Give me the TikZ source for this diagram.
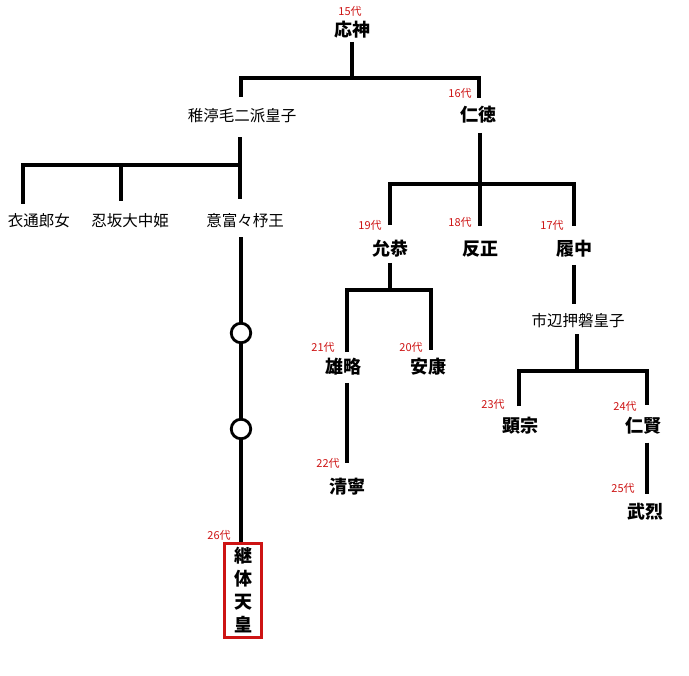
\documentclass[tikz,border=0pt]{standalone}
\usepackage{fontspec}
\newfontfamily\jp{Noto Sans CJK JP}
\definecolor{daired}{RGB}{205,20,20}

\begin{document}
\begin{tikzpicture}[x=1pt, y=-1pt,
        tenno/.style={font=\jp\bfseries\fontsize{18}{18}\selectfont, inner sep=0pt},
        miko/.style={font=\jp\fontsize{15.5}{16}\selectfont, inner sep=0pt},
        dai/.style={text=daired, font=\jp\fontsize{11}{11}\selectfont, inner sep=0pt},
        line/.style={line width=3.5pt},
        ring/.style={circle, draw, line width=2.8pt, minimum size=19.5pt, inner sep=0pt}]
        \useasboundingbox (0, 0) rectangle (689, 676);

        % --- Générations 15 et 16 ---
        \node[dai] (d15) at (350, 11) {15代};
        \node[tenno] (ojin) at (352, 30) {応神};
        \node[dai] (d16) at (460, 93) {16代};
        \node[tenno] (nintoku) at (478, 115) {仁徳};
        \node[miko] (wakanuke) at (242, 116) {稚渟毛二派皇子};

        % Jonctions
        \coordinate (j15) at (352, 78);
        \coordinate (j15l) at (241, 78);
        \coordinate (j15r) at (479, 78);

        \draw[line, shorten <=3pt] (ojin.south) -- (j15);
        \draw[line, shorten <=12pt, shorten >=8pt]
            (j15l |- wakanuke.north) -- (j15l) -- (j15r) -- (j15r |- nintoku.north);

        % --- Branche de Wakanuke ---
        \node[miko] (sotoori) at (39, 221) {衣通郎女};
        \node[miko] (osaka) at (130, 221) {忍坂大中姫};
        \node[miko] (ohodo) at (245, 221) {意富々杼王};

        \coordinate (jw) at (240, 165);
        \coordinate (jwl) at (23, 165);
        \coordinate (jwm) at (121, 165);

        \draw[line, shorten <=14pt, shorten >=15pt] (jw |- wakanuke.south) -- (jw |- ohodo.north);
        \draw[line, shorten <=10pt] (jwl |- sotoori.north) -- (jwl) -- (jw);
        \draw[line, shorten >=13pt] (jwm) -- (jwm |- osaka.north);

        % --- Fils de Nintoku ---
        \node[dai] (d19) at (370, 225) {19代};
        \node[tenno] (ingyo) at (390, 249) {允恭};
        \node[dai] (d18) at (460, 222) {18代};
        \node[tenno] (hanzei) at (480, 249) {反正};
        \node[dai] (d17) at (552, 225) {17代};
        \node[tenno] (richu) at (574, 249) {履中};

        \coordinate (j16) at (480, 184);
        \coordinate (j16l) at (390, 184);
        \coordinate (j16r) at (574, 184);

        \draw[line, shorten <=9pt, shorten >=15pt] (j16 |- nintoku.south) -- (j16 |- hanzei.north);
        \draw[line, shorten <=15pt, shorten >=14pt]
            (j16l |- ingyo.north) -- (j16l) -- (j16r) -- (j16r |- richu.north);

        % --- Fils d'Ingyo ---
        \node[dai] (d21) at (323, 347) {21代};
        \node[tenno] (yuryaku) at (343, 367) {雄略};
        \node[dai] (d20) at (411, 347) {20代};
        \node[tenno] (anko) at (428, 367) {安康};
        \node[dai] (d22) at (328, 463) {22代};
        \node[tenno] (seinei) at (347, 487) {清寧};

        \coordinate (j19) at (390, 290);
        \coordinate (j19l) at (347, 290);
        \coordinate (j19r) at (431, 290);

        \draw[line, shorten <=5pt] (j19 |- ingyo.south) -- (j19);
        \draw[line, shorten <=6pt, shorten >=8pt]
            (j19l |- yuryaku.north) -- (j19l) -- (j19r) -- (j19r |- anko.north);
        \draw[line, shorten <=7pt, shorten >=15pt] (j19l |- yuryaku.south) -- (j19l |- seinei.north);

        % --- Branche de Richu ---
        \node[miko] (ichinobe) at (578, 321) {市辺押磐皇子};
        \node[dai] (d23) at (493, 404) {23代};
        \node[tenno] (kenzo) at (520, 426) {顕宗};
        \node[dai] (d24) at (625, 406) {24代};
        \node[tenno] (ninken) at (643, 426) {仁賢};
        \node[dai] (d25) at (623, 488) {25代};
        \node[tenno] (buretsu) at (645, 512) {武烈};

        \coordinate (j17) at (577, 371);
        \coordinate (j17l) at (519, 371);
        \coordinate (j17r) at (647, 371);

        \draw[line, shorten <=7pt, shorten >=10pt] (j16r |- richu.south) -- (j16r |- ichinobe.north);
        \draw[line, shorten <=6pt] (j17 |- ichinobe.south) -- (j17);
        \draw[line, shorten <=11pt, shorten >=12pt]
            (j17l |- kenzo.north) -- (j17l) -- (j17r) -- (j17r |- ninken.north);
        \draw[line, shorten <=8pt, shorten >=9pt] (j17r |- ninken.south) -- (j17r |- buretsu.north);

        % --- Descendance d'Ohodo jusqu'à Keitai ---
        \node[ring] (c1) at (241, 333) {};
        \node[ring] (c2) at (241, 429) {};
        \node[dai] (d26) at (219, 535) {26代};
        \node[draw=daired, line width=3pt, minimum width=37pt, minimum height=94pt, inner sep=0pt,
            align=center, font=\jp\bfseries\fontsize{18}{23}\selectfont] (keitai) at (243, 590.5)
            {継\\体\\天\\皇};

        \draw[line, shorten <=9pt] (j15l |- ohodo.south) -- (c1.north);
        \draw[line] (c1) -- (c2);
        \draw[line] (c2) -- (c2 |- keitai.north);
    \end{tikzpicture}
\end{document}
